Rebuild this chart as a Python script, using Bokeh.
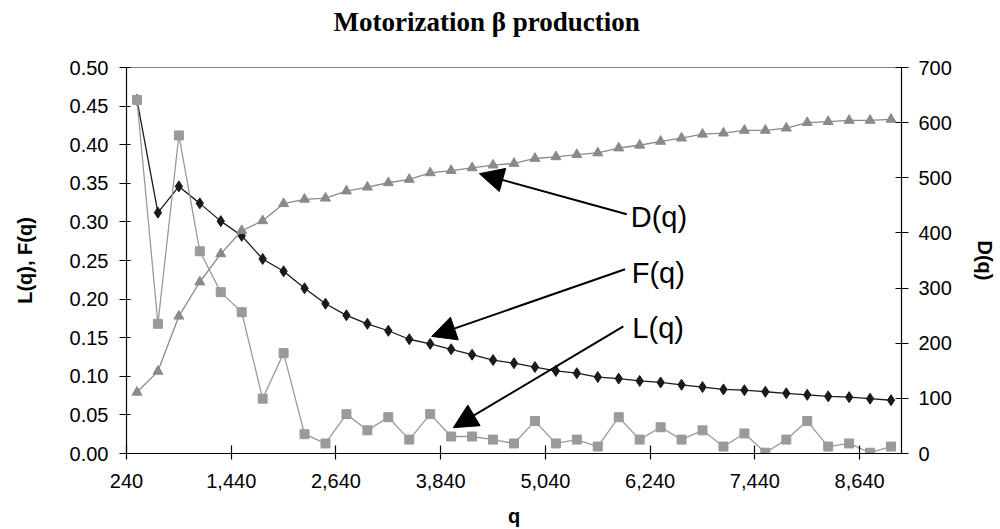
from bokeh.plotting import figure
from bokeh.models import (Range1d, LinearAxis, FixedTicker, NumeralTickFormatter,
                          Arrow, NormalHead, Label, Title)
from bokeh.embed import file_html
from bokeh.resources import INLINE

# ---- data ----
q = [360, 600, 840, 1080, 1320, 1560, 1800, 2040, 2280, 2520,
     2760, 3000, 3240, 3480, 3720, 3960, 4200, 4440, 4680, 4920,
     5160, 5400, 5640, 5880, 6120, 6360, 6600, 6840, 7080, 7320,
     7560, 7800, 8040, 8280, 8520, 8760, 9000]
L_vals = [0.458, 0.168, 0.412, 0.262, 0.209, 0.183, 0.071, 0.130, 0.025, 0.013,
          0.051, 0.030, 0.047, 0.018, 0.051, 0.022, 0.022, 0.018, 0.013, 0.042,
          0.013, 0.018, 0.009, 0.047, 0.018, 0.034, 0.018, 0.030, 0.009, 0.026,
          0.001, 0.018, 0.042, 0.009, 0.013, 0.001, 0.009]
F_vals = [0.458, 0.312, 0.346, 0.324, 0.301, 0.282, 0.252, 0.236, 0.214, 0.194,
          0.179, 0.168, 0.159, 0.148, 0.142, 0.135, 0.128, 0.121, 0.117, 0.112,
          0.107, 0.104, 0.099, 0.097, 0.094, 0.092, 0.089, 0.086, 0.083, 0.082,
          0.080, 0.078, 0.076, 0.074, 0.073, 0.071, 0.069]
D_vals = [111, 149, 249, 311, 362, 404, 422, 453, 461, 463,
          476, 483, 491, 497, 509, 513, 518, 523, 526, 535,
          538, 542, 545, 554, 559, 566, 572, 579, 581, 586,
          586, 590, 600, 602, 604, 604, 606]
x_ticks = [240, 1440, 2640, 3840, 5040, 6240, 7440, 8640]
left_ticks = [0.0, 0.05, 0.10, 0.15, 0.20, 0.25, 0.30, 0.35, 0.40, 0.45, 0.50]
right_ticks = [0, 100, 200, 300, 400, 500, 600, 700]
title_text = "Motorization \u03b2 production"

TICK_FONT = "Liberation Sans"

p = figure(width=1000, height=529, output_backend="svg", toolbar_location=None,
           x_range=Range1d(240, 9120), y_range=Range1d(0, 0.5),
           min_border_left=126, min_border_right=99, min_border_top=67,
           min_border_bottom=75)
p.extra_y_ranges = {"d": Range1d(0, 700)}

# titles stacked above the frame: an invisible spacer nearest the frame,
# then the real title further up
p.title.text = ""
spacer = Title(text="\u200b", text_font_size="10px", standoff=18,
               text_color="white")
p.add_layout(spacer, "above")
main_title = Title(text=title_text, align="left", offset=207, standoff=0,
                   text_font="Liberation Serif", text_font_style="bold",
                   text_font_size="27px", text_color="black")
p.add_layout(main_title, "above")

p.xgrid.visible = False
p.ygrid.visible = False
p.outline_line_color = "#808080"
p.outline_line_width = 1
p.background_fill_color = "white"
p.border_fill_color = "white"

def style_axis(ax, label, tick_in, tick_out, standoff, label_standoff):
    ax.axis_label = label
    ax.axis_label_text_font = TICK_FONT
    ax.axis_label_text_font_style = "bold"
    ax.axis_label_text_font_size = "20px"
    ax.axis_label_text_color = "black"
    ax.axis_label_standoff = label_standoff
    ax.major_label_text_font = TICK_FONT
    ax.major_label_text_font_size = "20px"
    ax.major_label_text_color = "black"
    ax.major_label_standoff = standoff
    ax.axis_line_color = "black"
    ax.axis_line_width = 1.2
    ax.major_tick_line_color = "black"
    ax.major_tick_line_width = 1.2
    ax.major_tick_in = tick_in
    ax.major_tick_out = tick_out
    ax.minor_tick_line_color = None

xa = p.xaxis[0]
xa.ticker = FixedTicker(ticks=x_ticks)
xa.formatter = NumeralTickFormatter(format="0,0")
style_axis(xa, "q", 8, 6, 14, 14)

ya = p.yaxis[0]
ya.ticker = FixedTicker(ticks=left_ticks)
ya.formatter = NumeralTickFormatter(format="0.00")
style_axis(ya, "L(q), F(q)", 4, 7, 11, 31)

ra = LinearAxis(y_range_name="d")
ra.ticker = FixedTicker(ticks=right_ticks)
ra.formatter = NumeralTickFormatter(format="0")
style_axis(ra, "D(q)", 6, 7, 10, 19)
p.add_layout(ra, "right")

# ---- series ----
p.line(q, F_vals, line_color="#1a1a1a", line_width=1.3)
p.scatter(q, F_vals, marker="diamond", size=11, fill_color="#1a1a1a",
          line_color="#1a1a1a")

p.line(q, D_vals, y_range_name="d", line_color="#8a8a8a", line_width=1.3)
p.scatter(q, D_vals, y_range_name="d", marker="triangle", size=10,
          fill_color="#8a8a8a", line_color="#8a8a8a")

p.line(q, L_vals, line_color="#9a9a9a", line_width=1.3)
p.scatter(q, L_vals, marker="square", size=9, fill_color="#9a9a9a",
          line_color="#9a9a9a")

# ---- annotations ----
arrows = [
    (5972, 0.310, 4283, 0.3625),
    (5953, 0.2386, 3737, 0.1517),
    (5933, 0.1646, 3985, 0.0335),
]
for xs, ys, xe, ye in arrows:
    p.add_layout(Arrow(end=NormalHead(size=24, fill_color="black",
                                      line_color="black"),
                       x_start=xs, y_start=ys, x_end=xe, y_end=ye,
                       line_color="black", line_width=2))

for txt, xx, yy in [("D(q)", 6018, 0.3065), ("F(q)", 6029, 0.2335),
                    ("L(q)", 6036, 0.1625)]:
    p.add_layout(Label(x=xx, y=yy, text=txt, text_font=TICK_FONT,
                       text_font_size="29px", text_color="black",
                       text_align="left", text_baseline="middle"))

open("out.html", "w").write(file_html(p, INLINE))
